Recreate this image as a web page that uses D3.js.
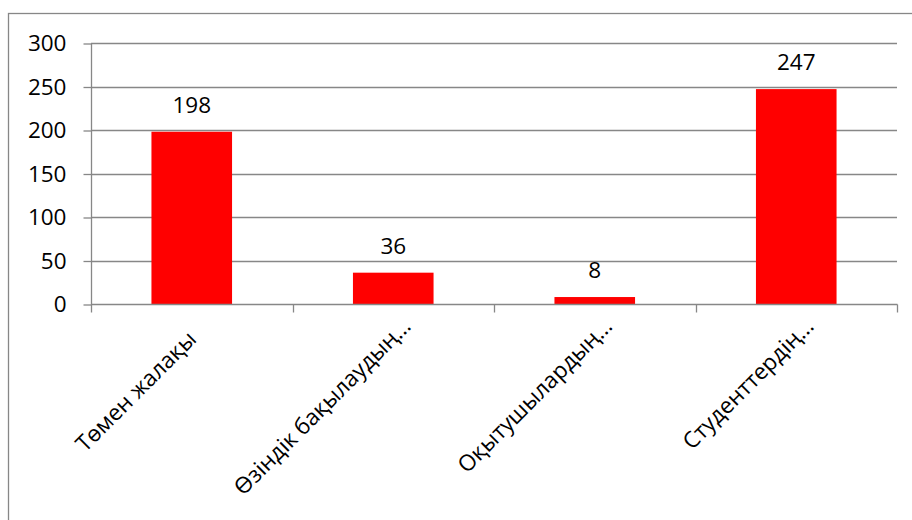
<!DOCTYPE html>
<html>
<head>
<meta charset="utf-8">
<script src="https://cdn.jsdelivr.net/npm/d3@7"></script>
<style>
  html, body { margin: 0; padding: 0; background: #fff; }
  svg { display: block; }
  text { font-family: "Open Sans", "Noto Sans", sans-serif; fill: #000; }
</style>
</head>
<body>
<svg id="chart" width="912" height="520"></svg>
<script>
const categories = ["Төмен жалақы", "Өзіндік бақылаудың…", "Оқытушылардың…", "Студенттердің…"];
const values = [198, 36, 8, 247];
const yTicks = [0, 50, 100, 150, 200, 250, 300];

const svg = d3.select("#chart");
const plot = { left: 91, right: 897, top: 43, bottom: 304 };
const gridColor = "#878787";
const fs = 22.5;

// outer chart border (extends past the bottom/right edge like the reference crop)
svg.append("rect")
  .attr("x", 8.5).attr("y", 13.5)
  .attr("width", 1000).attr("height", 1000)
  .attr("fill", "#fff")
  .attr("stroke", gridColor).attr("stroke-width", 1.3);

const x = d3.scaleBand().domain(categories).range([plot.left, plot.right]).padding(0);
const y = d3.scaleLinear().domain([0, 300]).range([plot.bottom, plot.top]);

// gridlines
svg.append("g").selectAll("line").data(yTicks.filter(d => d > 0)).join("line")
  .attr("x1", plot.left).attr("x2", plot.right)
  .attr("y1", d => Math.round(y(d)) + 0.5).attr("y2", d => Math.round(y(d)) + 0.5)
  .attr("stroke", gridColor).attr("stroke-width", 1.3);

// bars
const barW = x.bandwidth() * 0.4;
svg.append("g").selectAll("rect").data(values).join("rect")
  .attr("x", (d, i) => x(categories[i]) + (x.bandwidth() - barW) / 2)
  .attr("width", barW)
  .attr("y", d => y(d))
  .attr("height", d => y(0) - y(d))
  .attr("fill", "#ff0000");

// y axis
const yAxis = d3.axisLeft(y).tickValues(yTicks).tickSize(8).tickPadding(17);
const gy = svg.append("g").attr("transform", `translate(${plot.left + 0.5},0.5)`).call(yAxis);
gy.select(".domain").attr("stroke", gridColor).attr("stroke-width", 1.3).attr("d", `M0,${plot.top}V${plot.bottom}`);
gy.selectAll(".tick line").attr("stroke", gridColor).attr("stroke-width", 1.3);
gy.selectAll(".tick text").attr("font-size", fs).attr("font-family", "'Open Sans', 'Noto Sans', sans-serif").attr("fill", "#000");

// x axis
const gx = svg.append("g").attr("transform", `translate(0,${plot.bottom + 0.5})`);
gx.append("line").attr("x1", plot.left).attr("x2", plot.right + 0.5)
  .attr("y1", 0).attr("y2", 0).attr("stroke", gridColor).attr("stroke-width", 1.3);
const bounds = categories.map(c => x(c)).concat([x(categories[categories.length - 1]) + x.bandwidth()]);
gx.selectAll("line.tk").data(bounds).join("line").attr("class", "tk")
  .attr("x1", d => Math.round(d) + 0.5).attr("x2", d => Math.round(d) + 0.5)
  .attr("y1", 0).attr("y2", 8).attr("stroke", gridColor).attr("stroke-width", 1.3);

// rotated category labels (truncated labels sit a little further along, as in the reference)
gx.selectAll("text").data(categories).join("text")
  .attr("transform", d => {
    const cx = x(d) + x.bandwidth() / 2;
    const trunc = d.endsWith("…");
    return `translate(${cx + (trunc ? 19 : 6)},${trunc ? 23 : 36}) rotate(-45)`;
  })
  .attr("text-anchor", "end")
  .attr("font-size", fs)
  .text(d => d);

// data labels
svg.append("g").selectAll("text").data(values).join("text")
  .attr("x", (d, i) => x(categories[i]) + x.bandwidth() / 2)
  .attr("y", d => y(d) - 19)
  .attr("text-anchor", "middle")
  .attr("font-size", fs)
  .text(d => d);
</script>
</body>
</html>
